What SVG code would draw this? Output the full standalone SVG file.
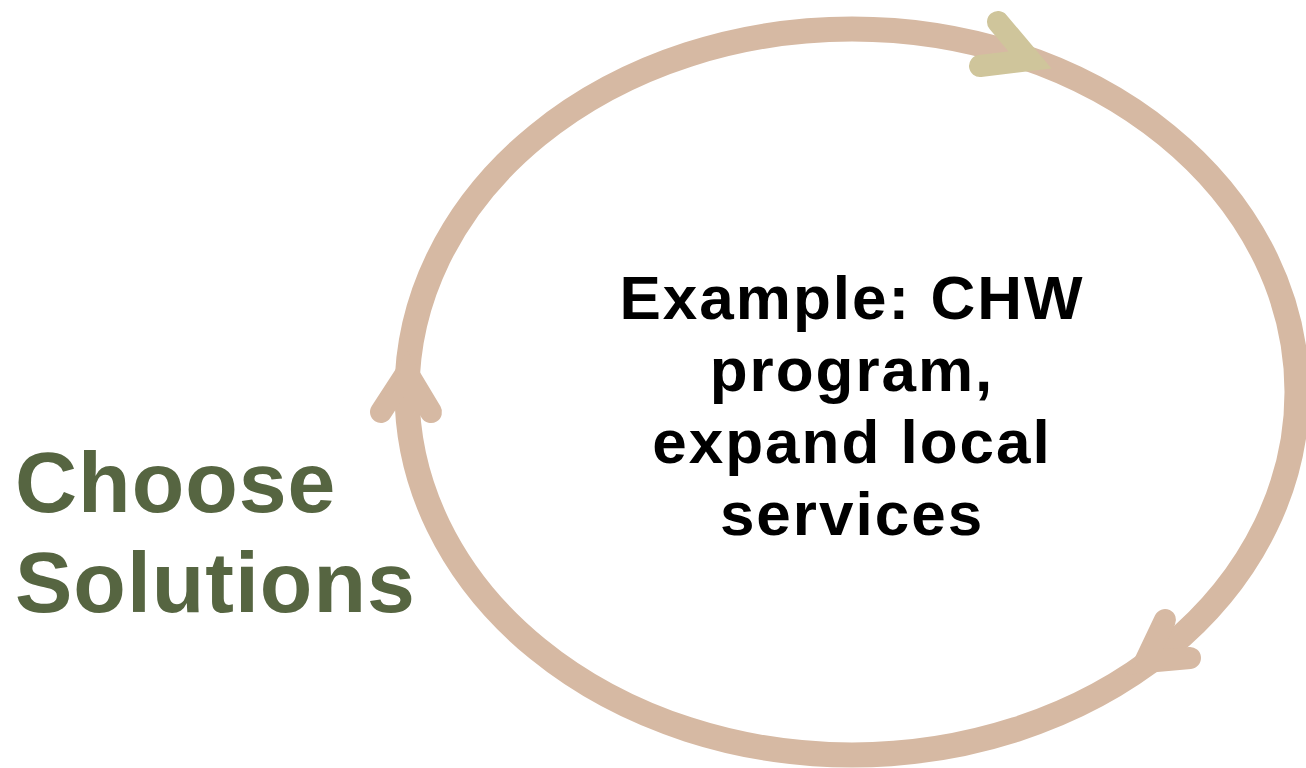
<svg xmlns="http://www.w3.org/2000/svg" width="1306" height="768" viewBox="0 0 1306 768">
<style>
.ring{fill:none;stroke:#d6b9a3;stroke-width:25}
.head{fill:none;stroke-width:22;stroke-linecap:round;stroke-linejoin:miter;stroke-miterlimit:10}
.title{font-family:"Liberation Sans",Arial,sans-serif;font-weight:bold;font-size:86px;fill:#566541;letter-spacing:1px}
.body{font-family:"Liberation Sans",Arial,sans-serif;font-weight:bold;font-size:62px;fill:#000;text-anchor:middle;letter-spacing:2px}
</style>
<rect width="1306" height="768" fill="#fff"/>
<g id="connectors">
<ellipse class="ring" cx="852" cy="392" rx="445" ry="363"/>
<polyline class="head" stroke="#cfc59b" points="998,22 1030,60 980,66"/>
<polyline class="head" stroke="#d6b9a3" points="381,412 407,372 431,412"/>
<polyline class="head" stroke="#d6b9a3" points="1165,620 1145,662 1190,658"/>
</g>
<g id="label-choose">
<text class="title" x="15" y="512">Choose</text>
<text class="title" x="15" y="612">Solutions</text>
</g>
<g id="node-example">
<text class="body" x="852" y="319">Example: CHW</text>
<text class="body" x="852" y="391">program,</text>
<text class="body" x="852" y="463">expand local</text>
<text class="body" x="852" y="535">services</text>
</g>
</svg>
